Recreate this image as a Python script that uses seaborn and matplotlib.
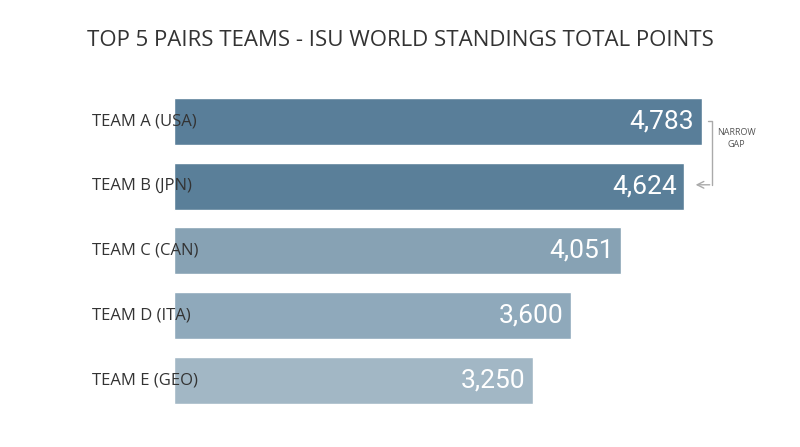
import matplotlib
matplotlib.use("Agg")
import matplotlib.pyplot as plt
import seaborn as sns
import pandas as pd

teams = ["TEAM A (USA)", "TEAM B (JPN)", "TEAM C (CAN)", "TEAM D (ITA)", "TEAM E (GEO)"]
points = [4783, 4624, 4051, 3600, 3250]
colors = ["#597e99", "#5a7f99", "#87a2b4", "#8fa9bb", "#a2b7c5"]

sns.set_theme(style="white")
plt.rcParams["font.family"] = ["Open Sans", "DejaVu Sans"]

df = pd.DataFrame({"team": teams, "points": points})

fig = plt.figure(figsize=(8, 4.47), dpi=100)
# bars span px 83..408 vertically, 174..702 horizontally
ax = fig.add_axes([0.2175, 0.063, 0.66, 0.752])
sns.barplot(data=df, x="points", y="team", hue="team", palette=colors,
            legend=False, width=0.725, saturation=1, ax=ax)
ax.set_xlim(0, max(points))
ax.set_xlabel("")
ax.set_ylabel("")
ax.set_xticks([])
ax.set_yticks(range(len(teams)))
ax.set_yticklabels([])
sns.despine(ax=ax, left=True, bottom=True)

for i, t in enumerate(teams):
    ax.text(-0.1545, i, t, transform=ax.get_yaxis_transform(), ha="left", va="center",
            fontsize=12, color="#333333")

for i, v in enumerate(points):
    ax.text(v - 70, i, f"{v:,}", ha="right", va="center", color="white",
            fontsize=19, family=["Roboto", "DejaVu Sans"])

fig.text(0.5, 0.91, "TOP 5 PAIRS TEAMS - ISU WORLD STANDINGS TOTAL POINTS",
         ha="center", va="center", fontsize=16, color="#333333")

# bracket annotation between A and B
ax.plot([4838, 4878, 4878], [0, 0, 0.98], color="#aaaaaa", lw=1, clip_on=False)
ax.annotate("", xy=(4700, 0.98), xytext=(4878, 0.98),
            arrowprops=dict(arrowstyle="->", color="#aaaaaa", lw=1),
            annotation_clip=False)
fig.text(0.921, 0.69, "NARROW\nGAP", ha="center", va="center",
         fontsize=6.5, color="#555555", linespacing=1.4)

fig.savefig("out.png", dpi=100)
